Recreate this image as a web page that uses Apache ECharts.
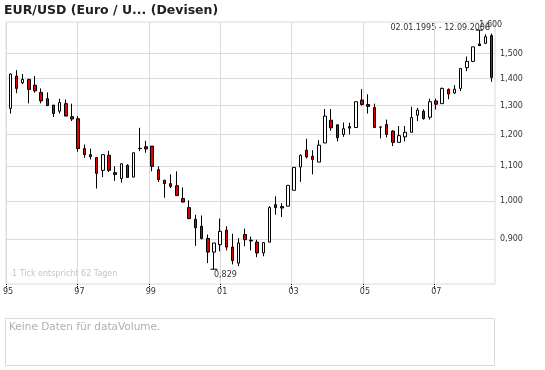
<!DOCTYPE html>
<html>
<head>
<meta charset="utf-8">
<script src="https://cdn.jsdelivr.net/npm/echarts@6/dist/echarts.min.js"></script>
<style>html,body{margin:0;padding:0;background:#fff}#c{width:545px;height:370px}</style>
</head>
<body>
<div id="c"></div>
<script>
// ---- data ----
const TITLE = 'EUR/USD (Euro / U... (Devisen)';
const RANGE_TEXT = '02.01.1995 - 12.09.2008';
const TICK_NOTE = '1 Tick entspricht 62 Tagen';
const VOLUME_NOTE = 'Keine Daten für dataVolume.';
const START_DATE = '1995-03-04';
const STEP_DAYS = 62;
const YEAR_TICKS = [0, 2, 4, 6, 8, 10, 12];          // years since 1995
const YEAR_LABELS = ['95', '97', '99', '01', '03', '05', '07'];
const PRICE_TICKS = [0.9, 1.0, 1.1, 1.2, 1.3, 1.4, 1.5];

const OPEN = [1.290,1.410,1.384,1.397,1.375,1.348,1.325,1.302,1.280,1.307,
  1.261,1.254,1.155,1.136,1.127,1.088,1.134,1.081,1.064,1.103,
  1.068,1.156,1.161,1.163,1.090,1.059,1.049,1.043,1.007,0.982,
  0.951,0.933,0.902,0.869,0.887,0.923,0.881,0.843,0.912,0.898,
  0.893,0.867,0.893,0.990,0.985,0.986,1.030,1.098,1.150,1.131,
  1.113,1.173,1.249,1.233,1.201,1.227,1.224,1.320,1.304,1.293,
  1.226,1.234,1.212,1.175,1.193,1.208,1.266,1.280,1.259,1.317,
  1.307,1.359,1.346,1.363,1.443,1.468,1.540,1.543,1.576];
const CLOSE = [1.418,1.363,1.397,1.359,1.354,1.317,1.300,1.272,1.311,1.263,
  1.253,1.155,1.136,1.130,1.079,1.136,1.088,1.076,1.108,1.067,
  1.142,1.155,1.154,1.100,1.061,1.049,1.041,1.015,0.997,0.953,
  0.929,0.902,0.869,0.891,0.920,0.881,0.849,0.891,0.899,0.896,
  0.867,0.892,0.982,0.982,0.981,1.044,1.097,1.134,1.129,1.121,
  1.166,1.263,1.223,1.190,1.220,1.222,1.314,1.304,1.297,1.224,
  1.225,1.201,1.175,1.197,1.208,1.258,1.284,1.254,1.314,1.305,
  1.363,1.342,1.360,1.440,1.468,1.528,1.533,1.571,1.405];
const LOW = [1.272,1.345,1.379,1.308,1.347,1.308,1.298,1.260,1.272,1.263,
  1.246,1.145,1.126,1.121,1.035,1.068,1.083,1.057,1.052,1.067,
  1.068,1.147,1.142,1.085,1.054,1.009,1.036,1.015,0.997,0.951,
  0.884,0.900,0.843,0.829,0.871,0.873,0.840,0.836,0.883,0.873,
  0.857,0.859,0.893,0.963,0.957,0.986,1.030,1.054,1.124,1.076,
  1.113,1.173,1.213,1.178,1.193,1.201,1.224,1.300,1.272,1.224,
  1.188,1.191,1.163,1.175,1.178,1.208,1.246,1.251,1.251,1.286,
  1.307,1.323,1.342,1.353,1.429,1.465,1.532,1.540,1.388];
const HIGH = [1.420,1.433,1.418,1.400,1.410,1.363,1.348,1.302,1.325,1.322,
  1.307,1.263,1.168,1.155,1.127,1.136,1.148,1.100,1.109,1.106,
  1.142,1.223,1.180,1.163,1.100,1.059,1.076,1.085,1.038,1.002,
  0.963,0.961,0.912,0.891,0.953,0.933,0.914,0.903,0.927,0.907,
  0.899,0.892,0.986,1.013,0.994,1.044,1.097,1.137,1.187,1.150,
  1.182,1.288,1.288,1.234,1.241,1.240,1.314,1.360,1.341,1.307,
  1.226,1.251,1.215,1.229,1.229,1.296,1.292,1.287,1.325,1.325,
  1.366,1.363,1.375,1.440,1.488,1.528,1.600,1.582,1.585];

// candle period labels (one candle per 62 days)
const CATEGORIES = [];
(function () {
  const t0 = new Date(START_DATE + 'T00:00:00Z').getTime();
  for (let i = 0; i < OPEN.length; i++) {
    const d = new Date(t0 + i * STEP_DAYS * 86400000);
    CATEGORIES.push(d.toISOString().slice(0, 10));
  }
})();
const CANDLES = OPEN.map((o, i) => [o, CLOSE[i], LOW[i], HIGH[i]]);

const FONT = 'DejaVu Sans';
const GRID_COLOR = '#dadada';
const fmtPrice = v => Number(v).toFixed(3).replace('.', ',');
const Y_MIN = 0.796, Y_MAX = 1.636;

const chart = echarts.init(document.getElementById('c'), null, {renderer: 'canvas'});
chart.setOption({
  animation: false,
  backgroundColor: '#fff',
  title: {
    text: TITLE, left: 4, top: 4, padding: 0,
    textStyle: {fontFamily: FONT, fontSize: 12.5, fontWeight: 'bold', color: '#222'}
  },
  grid: [
    {left: 5, right: 50, top: 22, bottom: 86, show: true, borderColor: GRID_COLOR, borderWidth: 1},
    {left: 10.3, right: 53.4, top: 22, bottom: 86, show: false}
  ],
  xAxis: [
    {
      type: 'value', gridIndex: 0, min: 0, max: 13.7,
      axisLine: {show: false},
      axisTick: {show: true, length: 5, customValues: YEAR_TICKS,
        lineStyle: {color: '#000', width: 1, type: [1, 1]}},
      axisLabel: {customValues: YEAR_TICKS, margin: 4, padding: [0, 0, 0, 4],
        fontFamily: FONT, fontSize: 8, color: '#333',
        formatter: v => { const k = YEAR_TICKS.indexOf(Math.round(v)); return k >= 0 ? YEAR_LABELS[k] : ''; }},
      splitLine: {show: true, lineStyle: {color: GRID_COLOR, width: 1}}
    },
    {
      type: 'category', gridIndex: 1, data: CATEGORIES, boundaryGap: false, show: false
    }
  ],
  yAxis: [
    {
      type: 'log', logBase: 10, gridIndex: 0, position: 'right', min: Y_MIN, max: Y_MAX,
      axisLine: {show: false},
      axisTick: {show: false, customValues: PRICE_TICKS},
      axisLabel: {customValues: PRICE_TICKS, margin: 5, fontFamily: FONT, fontSize: 8, color: '#333',
        formatter: v => fmtPrice(v)},
      splitLine: {show: true, lineStyle: {color: GRID_COLOR, width: 1}}
    },
    {
      type: 'log', logBase: 10, gridIndex: 1, min: Y_MIN, max: Y_MAX, show: false,
      splitLine: {show: false}
    }
  ],
  series: [{
    type: 'candlestick',
    xAxisIndex: 1, yAxisIndex: 1,
    data: CANDLES,
    barWidth: 3,
    itemStyle: {color: '#ffffff', color0: '#e00000', borderColor: '#000', borderColor0: '#000', borderWidth: 1},
    emphasis: {disabled: true},
    markPoint: {
      symbol: 'rect', symbolSize: [7, 1],
      itemStyle: {color: '#000'},
      label: {show: true, fontFamily: FONT, fontSize: 8, color: '#333', align: 'left', distance: 1,
        formatter: p => fmtPrice(p.value)},
      data: [
        {type: 'min', valueDim: 'lowest', label: {position: 'bottom'}},
        {type: 'max', valueDim: 'highest', label: {position: 'top'}}
      ]
    }
  }],
  graphic: [
    {type: 'text', right: 55, top: 24, style: {text: RANGE_TEXT, fontFamily: FONT, fontSize: 8, fill: '#333'}},
    {type: 'text', left: 12, top: 270, style: {text: TICK_NOTE, fontFamily: FONT, fontSize: 8, fill: '#c4c4c4'}},
    {type: 'rect', shape: {x: 5.5, y: 318.5, width: 489, height: 47},
      style: {fill: 'none', stroke: GRID_COLOR, lineWidth: 1}},
    {type: 'text', left: 9, top: 322, style: {text: VOLUME_NOTE, fontFamily: FONT, fontSize: 10.5, fill: '#b0b0b0'}}
  ]
});
</script>
</body>
</html>
